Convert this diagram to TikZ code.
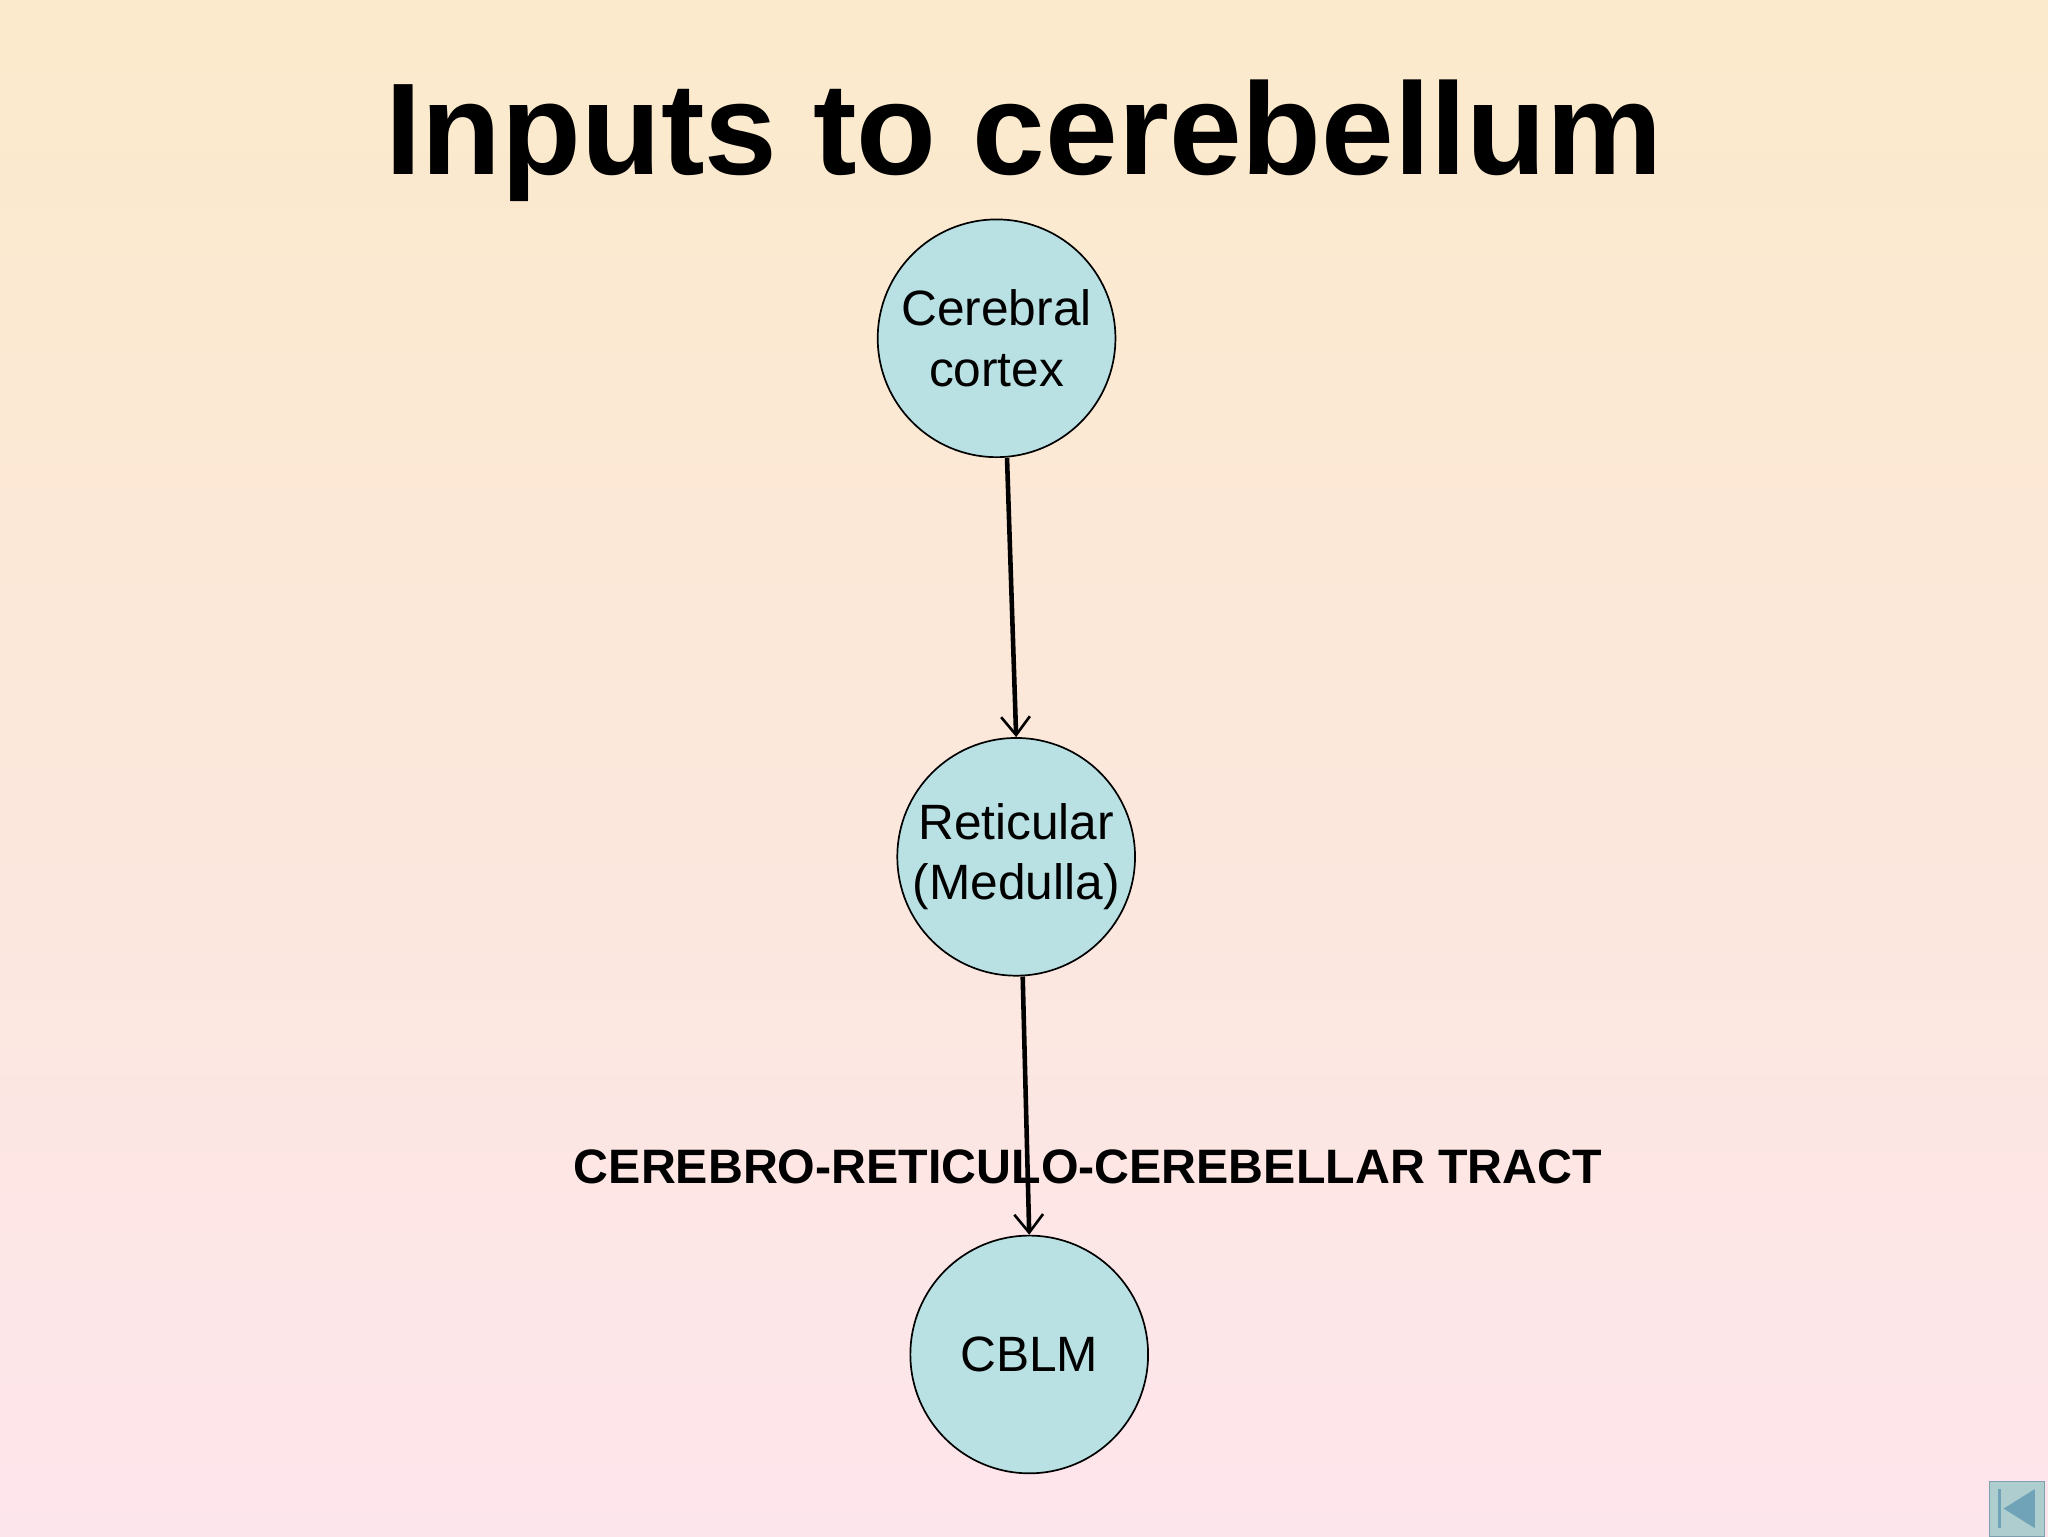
\documentclass[tikz,border=0pt]{standalone}
\usepackage{fontspec}
\setmainfont{Liberation Sans}
\usetikzlibrary{arrows.meta}
\definecolor{bgtop}{HTML}{FBEACB}
\definecolor{bgbot}{HTML}{FDE5EC}
\definecolor{circ}{HTML}{B9E0E3}
\begin{document}
\begin{tikzpicture}[x=1pt,y=-1pt,
  bubble/.style={circle,draw=black,line width=1.3pt,fill=circ,minimum size=182pt,inner sep=0pt,align=center,font=\fontsize{38}{46}\selectfont},
  link/.style={line width=3.5pt,-{Straight Barb[length=14pt,width=22pt,line width=2pt]}}]
\shade[top color=bgtop,bottom color=bgbot] (0,0) rectangle (1568,1176);
\useasboundingbox (0,0) rectangle (1568,1176);
\node[font=\bfseries\fontsize{100}{110}\selectfont] (title) at (784,108) {Inputs to cerebellum};
\node[bubble] (cc) at (763,259) {Cerebral\\cortex};
\node[bubble] (rm) at (778,656) {Reticular\\(Medulla)};
\node[bubble] (cb) at (788,1037) {CBLM};
\draw[link] (cc.south)++(8,0) coordinate (a1) (a1) -- (rm.north);
\draw[link] ([xshift=5pt]rm.south) -- (cb.north);
\node[font=\bfseries\fontsize{37}{44}\selectfont] (lbl) at (833,893) {CEREBRO-RETICULO-CEREBELLAR TRACT};
\node[draw=gray!70!cyan,fill=circ!80!gray,minimum size=42pt,inner sep=0pt] (nav) at (1544,1155) {};
\draw[gray!60!cyan,line width=2pt] (1531,1140) -- (1531,1170);
\fill[gray!60!cyan] (1558,1140) -- (1534,1155) -- (1558,1170) -- cycle;
\end{tikzpicture}
\end{document}
